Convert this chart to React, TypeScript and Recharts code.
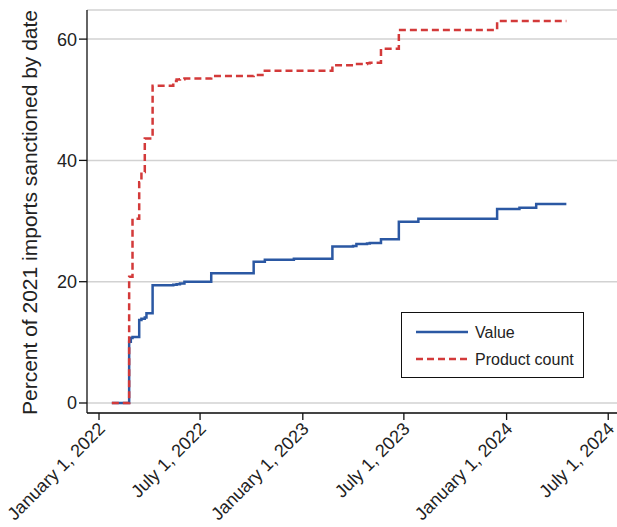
import { CartesianGrid, Line, LineChart, XAxis, YAxis } from 'recharts';

// step dates (sanction events) and cumulative shares
const stepDates = [
  '2022-01-24', '2022-02-24', '2022-02-27', '2022-03-02', '2022-03-14', '2022-03-18',
  '2022-03-24', '2022-03-27', '2022-04-07', '2022-05-14', '2022-05-20', '2022-05-26',
  '2022-06-03', '2022-07-21', '2022-10-05', '2022-10-25', '2022-12-16', '2023-02-23',
  '2023-04-01', '2023-04-07', '2023-04-26', '2023-05-01', '2023-05-21', '2023-06-22',
  '2023-07-27', '2023-12-15', '2024-01-24', '2024-02-23', '2024-04-17',
];
const valueShare = [
  0, 10.1, 10.7, 10.9, 13.7, 13.9,
  14.1, 14.8, 19.4, 19.5, 19.6, 19.7,
  20.0, 21.4, 23.3, 23.6, 23.8, 25.8,
  25.9, 26.2, 26.3, 26.4, 27.0, 29.9,
  30.4, 32.0, 32.2, 32.8, 32.8,
];
const productShare = [
  0, 20.8, 20.8, 30.4, 36.4, 38.1,
  43.6, 43.6, 52.3, 53.1, 53.35, 53.4,
  53.5, 53.9, 54.1, 54.8, 54.8, 55.7,
  55.9, 55.9, 56.0, 56.1, 58.4, 61.5,
  61.5, 63.0, 63.0, 63.0, 63.0,
];

const xTickDates = ['2022-01-01', '2022-07-01', '2023-01-01', '2023-07-01', '2024-01-01', '2024-07-01'];
const xTickLabels = ['January 1, 2022', 'July 1, 2022', 'January 1, 2023', 'July 1, 2023', 'January 1, 2024', 'July 1, 2024'];
const yTicks = [0, 20, 40, 60];

const DAY = 86400000;
const toTime = (s: string) => Date.parse(s + 'T00:00:00Z');
const xTickTimes = xTickDates.map(toTime);

const data = stepDates.map((d, i) => ({
  t: toTime(d),
  value: valueShare[i],
  count: productShare[i],
}));

const BLUE = '#2b58a3';
const RED = '#d33a3a';
const FONT = '"Liberation Sans", Arial, sans-serif';

function DateTick(props: any) {
  const { x, y, payload } = props;
  const i = xTickTimes.indexOf(payload.value);
  const ax = x + 7;
  const ay = y + 10;
  return (
    <text x={ax} y={ay} transform={`rotate(-45 ${ax} ${ay})`} textAnchor="end" fontSize={18} fill="#222" fontFamily={FONT}>
      {xTickLabels[i]}
    </text>
  );
}

function YTitle(props: any) {
  const vb = props.viewBox || { y: 10, height: 403 };
  const cy = vb.y + vb.height / 2 + 1;
  return (
    <text x={37} y={cy} transform={`rotate(-90 37 ${cy})`} textAnchor="middle" fontSize={21} fill="#222" fontFamily={FONT}>
      Percent of 2021 imports sanctioned by date
    </text>
  );
}

function LegendBox() {
  return (
    <div style={{ position: 'absolute', left: 401, top: 312, width: 183, height: 66, border: '1.5px solid #111', boxSizing: 'border-box', background: '#fff' }}>
      <svg width={180} height={63} style={{ display: 'block' }}>
        <line x1={14} x2={66} y1={19} y2={19} stroke={BLUE} strokeWidth={2.5} />
        <text x={73} y={19} dy="0.35em" fontSize={16} fill="#222" fontFamily={FONT}>Value</text>
        <line x1={14} x2={66} y1={46} y2={46} stroke={RED} strokeWidth={2.5} strokeDasharray="7 4" />
        <text x={73} y={46} dy="0.35em" fontSize={16} fill="#222" fontFamily={FONT}>Product count</text>
      </svg>
    </div>
  );
}

export default function App() {
  return (
    <div style={{ position: 'fixed', left: 0, top: 0, width: 617, height: 527, overflow: 'hidden', background: '#fff' }}>
      <LineChart
        width={640}
        height={527}
        data={data}
        margin={{ top: 10, right: 10, bottom: 0, left: 0 }}
        style={{ fontFamily: FONT }}
      >
        <CartesianGrid horizontal vertical={false} stroke="#d2d2d2" strokeWidth={1.5} />
        <XAxis
          dataKey="t"
          type="number"
          domain={[toTime('2022-01-01') - 21.5 * DAY, toTime('2024-07-01') + 39 * DAY]}
          ticks={xTickTimes}
          interval={0}
          allowDataOverflow
          height={114}
          tick={<DateTick />}
          tickSize={7}
          tickMargin={0}
          axisLine={{ stroke: '#111', strokeWidth: 1.3 }}
          tickLine={{ stroke: '#111', strokeWidth: 1.3 }}
        />
        <YAxis
          type="number"
          domain={[-1.65, 64.8]}
          ticks={yTicks}
          interval={0}
          allowDataOverflow
          width={87}
          tickSize={8}
          tickMargin={2}
          tick={{ fontSize: 18, fill: '#222' }}
          axisLine={{ stroke: '#111', strokeWidth: 1.3 }}
          tickLine={{ stroke: '#111', strokeWidth: 1.3 }}
          label={<YTitle />}
        />
        <Line
          type="stepAfter"
          dataKey="value"
          name="Value"
          stroke={BLUE}
          strokeWidth={2.5}
          dot={false}
          isAnimationActive={false}
        />
        <Line
          type="stepAfter"
          dataKey="count"
          name="Product count"
          stroke={RED}
          strokeWidth={2.5}
          strokeDasharray="7 4"
          dot={false}
          isAnimationActive={false}
        />
      </LineChart>
      <LegendBox />
    </div>
  );
}
